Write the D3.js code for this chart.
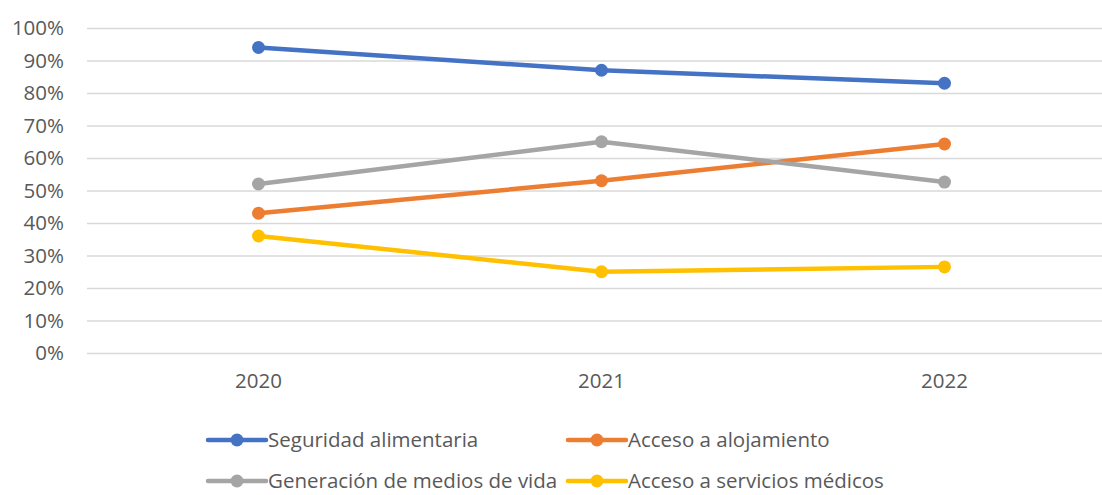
<!DOCTYPE html>
<html><head><meta charset="utf-8">
<script src="https://cdn.jsdelivr.net/npm/d3@7"></script>
<style>body{margin:0;background:#fff}svg{display:block}</style>
</head><body>
<script>
const categories = ["2020", "2021", "2022"];
const seriesNames = ["Seguridad alimentaria", "Acceso a alojamiento", "Generación de medios de vida", "Acceso a servicios médicos"];
const seguridad = [0.94, 0.87, 0.83];
const alojamiento = [0.43, 0.53, 0.643];
const medios = [0.52, 0.65, 0.526];
const servicios = [0.36, 0.25, 0.265];
const yTicks = [0, 0.1, 0.2, 0.3, 0.4, 0.5, 0.6, 0.7, 0.8, 0.9, 1.0];
const colors = ["#4472C4", "#ED7D31", "#A5A5A5", "#FFC000"];

const series = [seguridad, alojamiento, medios, servicios].map((v, i) => ({name: seriesNames[i], values: v, color: colors[i]}));

const W = 1102, H = 495;
const font = "'Open Sans', sans-serif";
const svg = d3.select("body").append("svg").attr("width", W).attr("height", H);

const x = d3.scaleBand().domain(categories).range([87, 1116]);
const y = d3.scaleLinear().domain([0, 1]).range([353, 28]);

const yAxis = d3.axisLeft(y).tickValues(yTicks).tickFormat(d3.format(".0%")).tickSize(-(1116 - 87)).tickPadding(24);
const gy = svg.append("g").attr("transform", "translate(87,0)").call(yAxis);
gy.select(".domain").remove();
gy.selectAll(".tick line").attr("stroke", "#D9D9D9").attr("stroke-width", 1.3);
gy.selectAll(".tick text").attr("fill", "#595959").style("font-family", font).style("font-size", "20.5px").attr("x", -23);

const xAxis = d3.axisBottom(x).tickSize(0).tickPadding(20);
const gx = svg.append("g").attr("transform", "translate(0,353)").call(xAxis);
gx.select(".domain").remove();
gx.selectAll(".tick text").attr("fill", "#595959").style("font-family", font).style("font-size", "20.5px");

const cx = d => x(d) + x.bandwidth() / 2;
const line = d3.line().x((d, i) => cx(categories[i])).y(d => y(d));

series.forEach(s => {
  svg.append("path").datum(s.values).attr("d", line).attr("fill", "none")
    .attr("stroke", s.color).attr("stroke-width", 4.5).attr("stroke-linejoin", "round").attr("stroke-linecap", "round");
  svg.selectAll(null).data(s.values).enter().append("circle")
    .attr("cx", (d, i) => cx(categories[i])).attr("cy", d => y(d)).attr("r", 6.5).attr("fill", s.color);
});

const legendPos = [[208, 440], [568, 440], [208, 481], [568, 481]];
series.forEach((s, i) => {
  const [lx, ly] = legendPos[i];
  const g = svg.append("g").attr("transform", `translate(${lx},${ly})`);
  g.append("line").attr("x1", 0).attr("x2", 58).attr("y1", 0).attr("y2", 0)
    .attr("stroke", s.color).attr("stroke-width", 4.5).attr("stroke-linecap", "round");
  g.append("circle").attr("cx", 29).attr("cy", 0).attr("r", 6.5).attr("fill", s.color);
  g.append("text").attr("x", 60).attr("y", 0).attr("dy", "0.33em").attr("fill", "#595959")
    .style("font-family", font).style("font-size", "20.5px").text(s.name);
});
</script>
</body></html>
